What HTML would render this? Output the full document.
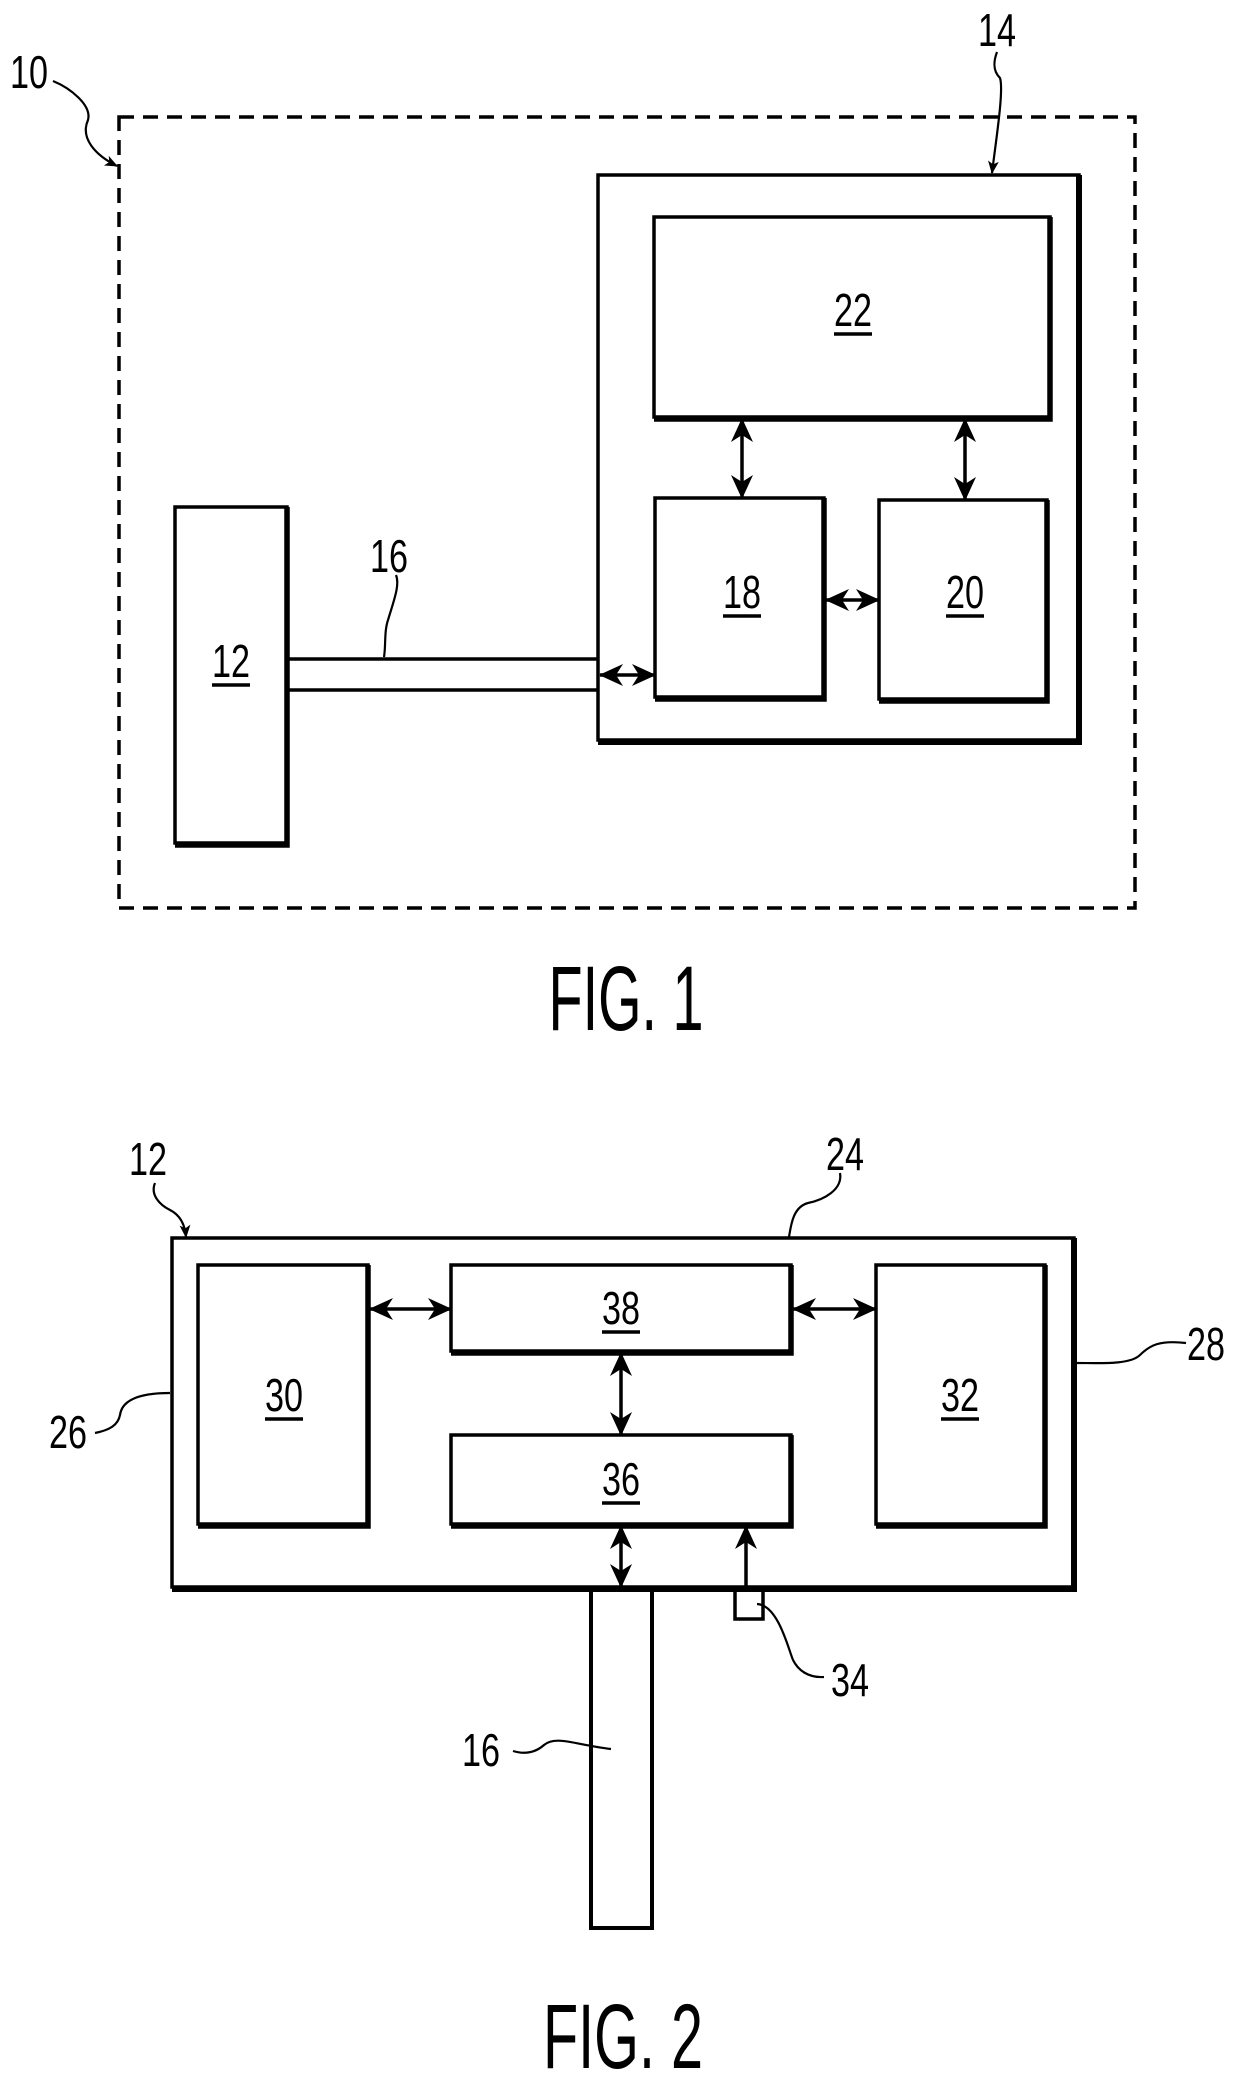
<!DOCTYPE html>
<html><head><meta charset="utf-8"><style>
html,body{margin:0;padding:0;background:#fff}
svg{display:block}
text{font-family:"Liberation Sans",sans-serif;fill:#000}
</style></head><body>
<svg width="1240" height="2078" viewBox="0 0 1240 2078" xmlns="http://www.w3.org/2000/svg">
<defs>
<marker id="ah" viewBox="0 0 24 24" refX="23" refY="12" markerWidth="24" markerHeight="24" markerUnits="userSpaceOnUse" orient="auto-start-reverse">
<path d="M0,1 L24,12 L0,23 L7,12 Z" fill="#000"/>
</marker>
<marker id="sa" viewBox="0 0 12 12" refX="11" refY="6" markerWidth="13" markerHeight="13" markerUnits="userSpaceOnUse" orient="auto">
<path d="M0,1 L12,6 L0,11 L3,6 Z" fill="#000"/>
</marker>
</defs>
<g fill="none" stroke="#000">
<!-- FIG 1 -->
<rect x="119" y="117" width="1016" height="791" stroke-width="3.5" stroke-dasharray="15 9"/>
<rect x="598" y="175" width="481" height="565" stroke-width="3.5"/>
<path d="M1079,175 V742 H598" stroke-width="6"/>
<rect x="654" y="217" width="396" height="200" stroke-width="3.5"/>
<path d="M1050,217 V419 H654" stroke-width="5.5"/>
<rect x="655" y="498" width="169" height="199" stroke-width="3.5"/>
<path d="M824,498 V699 H655" stroke-width="5.5"/>
<rect x="879" y="500" width="168" height="199" stroke-width="3.5"/>
<path d="M1047,500 V701 H879" stroke-width="5.5"/>
<rect x="175" y="507" width="112" height="336" stroke-width="3.5"/>
<path d="M287,507 V845 H175" stroke-width="5.5"/>
<line x1="287" y1="659" x2="598" y2="659" stroke-width="3.5"/>
<line x1="287" y1="690" x2="598" y2="690" stroke-width="3.5"/>
<line x1="742" y1="419" x2="742" y2="498" stroke-width="3.5" marker-start="url(#ah)" marker-end="url(#ah)"/>
<line x1="965" y1="419" x2="965" y2="500" stroke-width="3.5" marker-start="url(#ah)" marker-end="url(#ah)"/>
<line x1="826" y1="600" x2="879" y2="600" stroke-width="3.5" marker-start="url(#ah)" marker-end="url(#ah)"/>
<line x1="600" y1="675" x2="655" y2="675" stroke-width="3.5" marker-start="url(#ah)" marker-end="url(#ah)"/>
<path d="M53,81 C70,88 92,105 88,120 C80,138 95,155 117,166" stroke-width="2.2" marker-end="url(#sa)"/>
<path d="M997,52 C994,60 992,70 1000,78 C1004,90 996,140 992,173" stroke-width="2.2" marker-end="url(#sa)"/>
<path d="M396,575 C400,585 394,600 388,620 C384,632 386,645 384,657" stroke-width="2.2"/>
<!-- FIG 2 -->
<rect x="172" y="1238" width="902" height="349" stroke-width="3.5"/>
<path d="M1074,1238 V1589 H172" stroke-width="6"/>
<rect x="198" y="1265" width="170" height="259" stroke-width="3.5"/>
<path d="M368,1265 V1526 H198" stroke-width="5.5"/>
<rect x="451" y="1265" width="340" height="86" stroke-width="3.5"/>
<path d="M791,1265 V1353 H451" stroke-width="5.5"/>
<rect x="876" y="1265" width="169" height="259" stroke-width="3.5"/>
<path d="M1045,1265 V1526 H876" stroke-width="5.5"/>
<rect x="451" y="1435" width="340" height="89" stroke-width="3.5"/>
<path d="M791,1435 V1526 H451" stroke-width="5.5"/>
<rect x="591" y="1589" width="61" height="339" stroke-width="4"/>
<rect x="735" y="1589" width="28" height="30" stroke-width="3.5"/>
<line x1="370" y1="1309" x2="451" y2="1309" stroke-width="3.5" marker-start="url(#ah)" marker-end="url(#ah)"/>
<line x1="793" y1="1309" x2="876" y2="1309" stroke-width="3.5" marker-start="url(#ah)" marker-end="url(#ah)"/>
<line x1="621" y1="1353" x2="621" y2="1435" stroke-width="3.5" marker-start="url(#ah)" marker-end="url(#ah)"/>
<line x1="621" y1="1526" x2="621" y2="1587" stroke-width="3.5" marker-start="url(#ah)" marker-end="url(#ah)"/>
<line x1="746" y1="1589" x2="746" y2="1526" stroke-width="3.5" marker-end="url(#ah)"/>
<path d="M155,1183 C150,1195 160,1205 170,1210 C180,1215 185,1225 186,1237" stroke-width="2.2" marker-end="url(#sa)"/>
<path d="M840,1173 C843,1190 823,1200 808,1203 C793,1207 791,1225 789,1237" stroke-width="2.2"/>
<path d="M1186,1343 C1160,1340 1150,1345 1140,1355 C1130,1365 1100,1363 1076,1363" stroke-width="2.2"/>
<path d="M95,1433 C110,1430 118,1425 120,1415 C122,1400 140,1393 170,1393" stroke-width="2.2"/>
<path d="M824,1677 C808,1678 798,1670 793,1660 C788,1648 778,1605 757,1604" stroke-width="2.2"/>
<path d="M513,1751 C526,1755 536,1752 544,1745 C556,1735 576,1745 611,1749" stroke-width="2.2"/>
</g>
<g font-size="46" text-anchor="middle">
<text x="29" y="88" textLength="38" lengthAdjust="spacingAndGlyphs">10</text>
<text x="997" y="46" textLength="38" lengthAdjust="spacingAndGlyphs">14</text>
<text x="389" y="572" textLength="38" lengthAdjust="spacingAndGlyphs">16</text>
<text x="853" y="326" textLength="38" lengthAdjust="spacingAndGlyphs">22</text>
<text x="742" y="608" textLength="38" lengthAdjust="spacingAndGlyphs">18</text>
<text x="965" y="608" textLength="38" lengthAdjust="spacingAndGlyphs">20</text>
<text x="231" y="677" textLength="38" lengthAdjust="spacingAndGlyphs">12</text>
<text x="148" y="1175" textLength="38" lengthAdjust="spacingAndGlyphs">12</text>
<text x="845" y="1170" textLength="38" lengthAdjust="spacingAndGlyphs">24</text>
<text x="1206" y="1360" textLength="38" lengthAdjust="spacingAndGlyphs">28</text>
<text x="68" y="1448" textLength="38" lengthAdjust="spacingAndGlyphs">26</text>
<text x="850" y="1696" textLength="38" lengthAdjust="spacingAndGlyphs">34</text>
<text x="481" y="1766" textLength="38" lengthAdjust="spacingAndGlyphs">16</text>
<text x="284" y="1411" textLength="38" lengthAdjust="spacingAndGlyphs">30</text>
<text x="960" y="1411" textLength="38" lengthAdjust="spacingAndGlyphs">32</text>
<text x="621" y="1324" textLength="38" lengthAdjust="spacingAndGlyphs">38</text>
<text x="621" y="1495" textLength="38" lengthAdjust="spacingAndGlyphs">36</text>
<text x="626" y="1030" font-size="92" textLength="155" lengthAdjust="spacingAndGlyphs">FIG. 1</text>
<text x="623" y="2068" font-size="92" textLength="160" lengthAdjust="spacingAndGlyphs">FIG. 2</text>
</g>
<g stroke="#000" stroke-width="3.5">
<line x1="834" y1="334" x2="872" y2="334"/>
<line x1="723" y1="616" x2="761" y2="616"/>
<line x1="946" y1="616" x2="984" y2="616"/>
<line x1="212" y1="685" x2="250" y2="685"/>
<line x1="265" y1="1419" x2="303" y2="1419"/>
<line x1="941" y1="1419" x2="979" y2="1419"/>
<line x1="602" y1="1332" x2="640" y2="1332"/>
<line x1="602" y1="1503" x2="640" y2="1503"/>
</g>
</svg>
</body></html>
